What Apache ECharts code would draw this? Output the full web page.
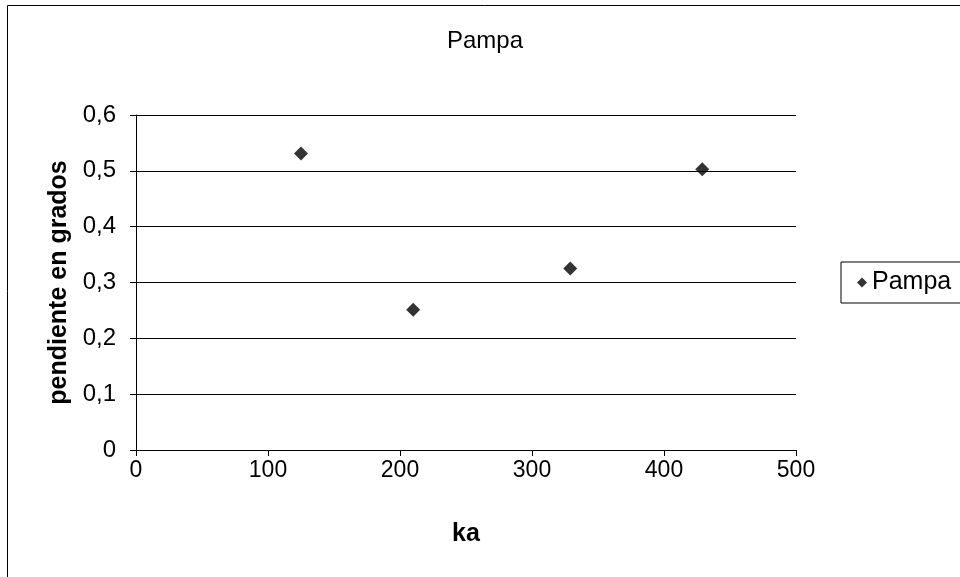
<!DOCTYPE html>
<html>
<head>
<meta charset="utf-8">
<script src="https://cdn.jsdelivr.net/npm/echarts@6/dist/echarts.min.js"></script>
<style>
  html, body { margin: 0; padding: 0; background: #fff; }
  #chart { width: 960px; height: 577px; }
</style>
</head>
<body>
<div id="chart"></div>
<script>
// datos
var kaValues = [125, 210, 329, 429];
var pendiente = [0.531, 0.251, 0.325, 0.503];
var yTicks = [0, 0.1, 0.2, 0.3, 0.4, 0.5, 0.6];

var chart = echarts.init(document.getElementById('chart'));
var fontFam = 'Liberation Sans, Arial, sans-serif';

var option = {
	backgroundColor: '#fff',
	animation: false,
	title: {
		text: 'Pampa',
		left: 480,
		top: 24,
		textAlign: 'center',
		textStyle: {
			color: '#000',
			fontSize: 24,
			fontWeight: 'normal',
			fontFamily: fontFam
		}
	},
	graphic: [
		{
			type: 'rect',
			shape: { x: 7.5, y: 5.5, width: 1000, height: 1000 },
			style: { fill: 'none', stroke: '#000', lineWidth: 1 },
			silent: true
		}
	],
	legend: {
		left: 841,
		top: 262,
		orient: 'vertical',
		borderColor: '#000',
		borderWidth: 1,
		padding: [8, 30, 8, 16],
		itemWidth: 10,
		itemHeight: 10,
		itemGap: 4,
		textStyle: {
			color: '#000',
			fontSize: 25,
			fontFamily: fontFam
		},
		data: [{ name: 'Pampa', icon: 'diamond' }]
	},
	grid: {
		left: 136,
		right: 164,
		top: 115,
		bottom: 127,
		containLabel: false
	},
	xAxis: {
		type: 'value',
		min: 0,
		max: 500,
		interval: 100,
		name: 'ka',
		nameLocation: 'middle',
		nameGap: 72,
		nameTextStyle: {
			color: '#000',
			fontSize: 25,
			fontWeight: 'bold',
			fontFamily: fontFam
		},
		axisLine: { show: true, lineStyle: { color: '#000', width: 1 } },
		axisTick: { show: true, length: 6, lineStyle: { color: '#000' } },
		axisLabel: {
			color: '#000',
			fontSize: 23,
			fontFamily: fontFam,
			margin: 9
		},
		splitLine: { show: false }
	},
	yAxis: {
		type: 'value',
		min: 0,
		max: 0.6,
		interval: 0.1,
		name: 'pendiente en grados',
		nameLocation: 'middle',
		nameGap: 62,
		nameRotate: 90,
		nameTextStyle: {
			color: '#000',
			fontSize: 25,
			fontWeight: 'bold',
			fontFamily: fontFam
		},
		axisLine: { show: true, lineStyle: { color: '#000', width: 1 } },
		axisTick: { show: true, length: 6, lineStyle: { color: '#000' } },
		axisLabel: {
			color: '#000',
			fontSize: 24,
			fontFamily: fontFam,
			margin: 20,
			formatter: function (v) {
				return String(Math.round(v * 10) / 10).replace('.', ',');
			}
		},
		splitLine: { show: true, lineStyle: { color: '#000', width: 1 } }
	},
	series: [
		{
			name: 'Pampa',
			type: 'scatter',
			symbol: 'diamond',
			symbolSize: 14,
			itemStyle: { color: '#000' },
			data: kaValues.map(function (k, i) { return [k, pendiente[i]]; })
		}
	]
};
chart.setOption(option);
</script>
</body>
</html>
